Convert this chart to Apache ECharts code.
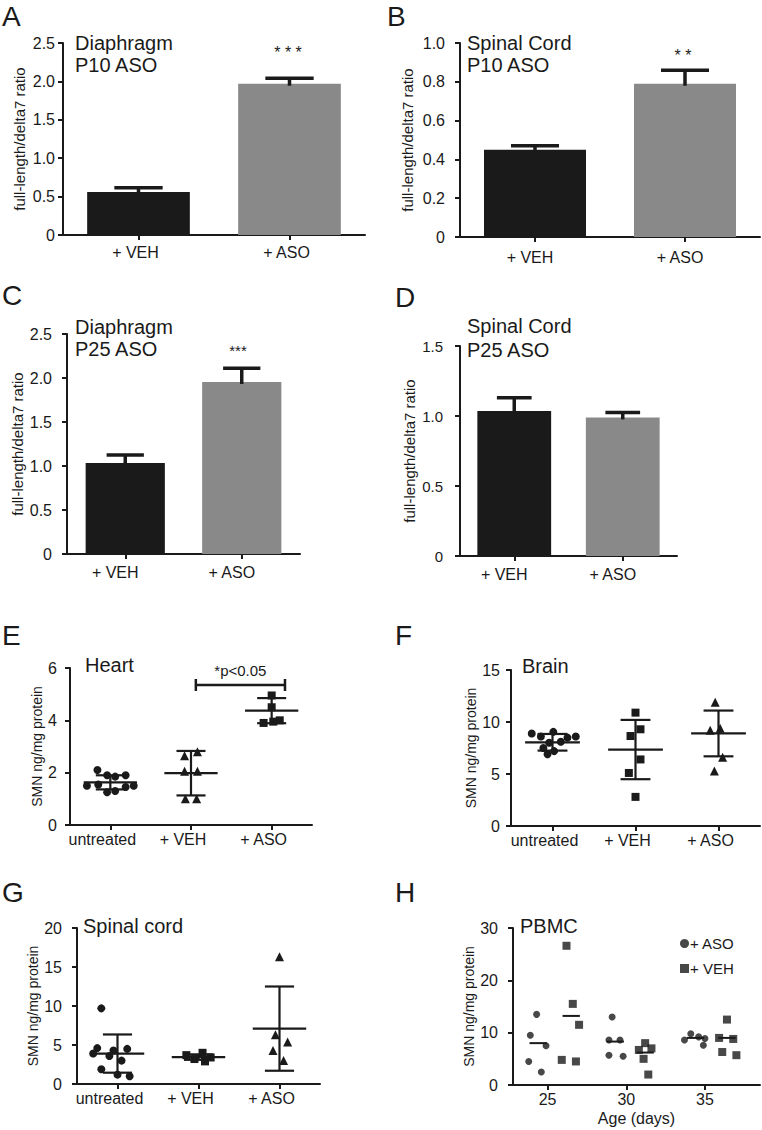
<!DOCTYPE html>
<html><head><meta charset="utf-8">
<script src="https://cdn.jsdelivr.net/npm/echarts@6/dist/echarts.min.js"></script>
<style>html,body{margin:0;padding:0;background:#fff}#c{width:762px;height:1130px}</style>
</head><body><div id="c"></div>
<script>
// ================= DATA =================
// Bar panels (A-D)
const barCategories = ['+ VEH', '+ ASO'];
const aValues = [0.56, 1.97];
const aErrTop = [0.615, 2.04];
const bValues = [0.45, 0.79];
const bErrTop = [0.47, 0.86];
const cValues = [1.035, 1.955];
const cErrTop = [1.125, 2.11];
const dValues = [1.035, 0.99];
const dErrTop = [1.13, 1.025];

// Scatter panels (E-G)
const groupCategories = ['untreated', '+ VEH', '+ ASO'];
// E heart
const eUntreated = [2.1, 1.9, 1.85, 1.9, 1.5, 1.55, 1.5, 1.45, 1.25, 1.3];
const eUntreatedJitter = [-0.16, -0.04, 0.06, 0.19, -0.29, -0.15, 0.29, 0.19, -0.04, 0.06];
const eVeh = [2.8, 2.65, 2.05, 2.05, 1.0, 1.0];
const eVehJitter = [0.08, -0.08, -0.08, 0.08, -0.07, 0.07];
const eAso = [4.95, 4.5, 4.0, 3.9, 3.95];
const eAsoJitter = [0.0, 0.0, 0.1, -0.1, 0.02];
const eMean = [1.63, 1.98, 4.37];
const eSd = [0.27, 0.85, 0.48];
const eBracket = [1.56, 2.665, 5.35]; // from, to, level
const eBracketLabel = '*p<0.05';
// F brain
const fUntreated = [8.9, 8.6, 9.05, 8.5, 8.6, 8.0, 8.1, 7.5, 7.2, 6.9];
const fUntreatedJitter = [-0.25, -0.14, 0.01, 0.18, 0.28, -0.04, 0.1, -0.11, 0.02, -0.06];
const fVeh = [10.9, 9.3, 8.65, 6.4, 5.1, 2.8];
const fVehJitter = [0.0, 0.06, -0.06, 0.06, -0.08, 0.0];
const fAso = [11.9, 9.4, 9.2, 6.6, 5.3];
const fAsoJitter = [-0.04, 0.02, -0.1, 0.05, -0.05];
const fMean = [8.05, 7.35, 8.9];
const fSd = [0.8, 2.85, 2.2];
// G spinal cord
const gUntreated = [9.7, 4.6, 4.3, 4.5, 3.9, 3.6, 3.0, 1.9, 1.2, 1.0];
const gUntreatedJitter = [-0.2, -0.25, -0.05, 0.12, -0.3, -0.1, 0.05, -0.2, 0.0, 0.15];
const gVeh = [4.0, 3.7, 3.4, 3.2, 2.9];
const gVehJitter = [0.05, -0.15, 0.15, -0.05, 0.08];
const gAso = [16.3, 6.3, 5.4, 4.3, 3.0];
const gAsoJitter = [0.0, -0.05, 0.1, -0.08, 0.05];
const gMean = [3.9, 3.45, 7.1];
const gSd = [2.45, 0.35, 5.4];

// H PBMC (x = age in days, with jitter)
const hTicks = [25, 30, 35];
const hAsoX = [[24.3, 23.9, 24.9, 23.8, 24.6], [29.1, 28.9, 29.6, 28.9, 29.8], [34.1, 34.6, 35.0, 33.7, 34.9]];
const hAsoY = [[13.5, 9.5, 7.5, 4.5, 2.5], [13.0, 8.6, 8.6, 5.7, 5.5], [9.8, 9.2, 8.9, 8.6, 7.6]];
const hVehX = [[26.2, 26.6, 27.0, 25.9, 26.8], [31.2, 30.8, 31.6, 31.1, 31.4], [36.4, 35.9, 36.8, 36.1, 37.0]];
const hVehY = [[26.6, 15.5, 11.5, 4.8, 4.5], [8.0, 6.7, 7.0, 5.0, 2.0], [12.5, 9.0, 8.8, 6.3, 5.7]];
const hAsoMeanX = [24.4, 29.3, 34.4];
const hAsoMean = [8.0, 8.3, 9.0];
const hVehMeanX = [26.5, 31.2, 36.4];
const hVehMean = [13.2, 6.2, 9.0];

// ================= CHART =================
const FONT = '"Liberation Sans", Arial, Helvetica, sans-serif';
const INK = '#1a1a1a';
const GRAY = '#898989';
const RATIO = 'full-length/delta7 ratio';
const SMN = 'SMN ng/mg protein';

function fmt1(v) { return v === 0 ? '0' : v.toFixed(1); }
function fmt0(v) { return String(v); }

const grids = [
  {left: 63, top: 43, width: 302, height: 192},
  {left: 460, top: 43, width: 300, height: 194},
  {left: 67, top: 334, width: 233, height: 220},
  {left: 460, top: 346, width: 217, height: 210},
  {left: 70, top: 668, width: 242, height: 157},
  {left: 511, top: 670, width: 249, height: 156},
  {left: 77, top: 928, width: 243, height: 156},
  {left: 513, top: 928, width: 247, height: 157}
];

function catAxis(grid, cats, shift, margin) {
  return {
    type: 'category', gridIndex: grid, data: cats, boundaryGap: true,
    axisLine: {show: true, lineStyle: {color: INK, width: 2}},
    axisTick: {show: true, alignWithLabel: true, length: 5, lineStyle: {color: INK, width: 2}},
    axisLabel: {color: INK, fontSize: 16, fontFamily: FONT, margin: margin, padding: [0, 2 * shift, 0, 0], interval: 0},
    splitLine: {show: false}
  };
}
function hiddenVal(grid) {
  return {type: 'value', gridIndex: grid, min: 0, max: 3, show: false};
}
function valY(grid, max, interval, fmt, name, nameGap, nameSize, margin, labelSize) {
  return {
    type: 'value', gridIndex: grid, min: 0, max: max, interval: interval,
    name: name, nameLocation: 'middle', nameRotate: 90, nameGap: nameGap,
    nameTextStyle: {fontSize: nameSize, color: INK, fontFamily: FONT},
    axisLine: {show: true, lineStyle: {color: INK, width: 2}},
    axisTick: {show: true, length: 5, lineStyle: {color: INK, width: 2}},
    axisLabel: {color: INK, fontSize: labelSize || 16, fontFamily: FONT, margin: margin, formatter: fmt},
    splitLine: {show: false}
  };
}

const xAxes = [
  catAxis(0, barCategories, 3, 9),   // 0 A
  catAxis(1, barCategories, 5, 12),  // 1 B
  catAxis(2, barCategories, 10, 10), // 2 C
  catAxis(3, barCategories, 10, 10), // 3 D
  catAxis(4, groupCategories, 8, 6), // 4 E
  hiddenVal(4),                      // 5 E value
  catAxis(5, groupCategories, 8, 6), // 6 F
  hiddenVal(5),                      // 7 F value
  catAxis(6, groupCategories, 8, 6), // 8 G
  hiddenVal(6),                      // 9 G value
  {                                   // 10 H
    type: 'value', gridIndex: 7, min: 22.8, max: 38.5,
    name: 'Age (days)', nameLocation: 'middle', nameGap: 25,
    nameTextStyle: {fontSize: 16, color: INK, fontFamily: FONT},
    axisLine: {show: true, lineStyle: {color: INK, width: 2}},
    axisTick: {show: true, length: 5, lineStyle: {color: INK, width: 2}, customValues: hTicks},
    axisLabel: {color: INK, fontSize: 16, fontFamily: FONT, margin: 6, customValues: hTicks},
    splitLine: {show: false}
  }
];
const yAxes = [
  valY(0, 2.5, 0.5, fmt1, RATIO, 36, 15, 8),
  valY(1, 1.0, 0.2, fmt1, RATIO, 45, 15, 15),
  valY(2, 2.5, 0.5, fmt1, RATIO, 42, 15, 15),
  valY(3, 1.5, 0.5, fmt1, RATIO, 43, 15, 17, 15),
  valY(4, 6, 2, fmt0, SMN, 26, 14, 13),
  valY(5, 15, 5, fmt0, SMN, 30, 14, 11),
  valY(6, 20, 5, fmt0, SMN, 32, 14, 15),
  valY(7, 30, 10, fmt0, SMN, 36, 14, 15)
];

function barErrRender(params, api) {
  const idx = api.value(0), v = api.value(1), top = api.value(2);
  const p0 = api.coord([idx, v]), p1 = api.coord([idx, top]);
  const half = api.size([1, 0])[0] * 0.16;
  const st = {stroke: INK, lineWidth: 3.5};
  return {type: 'group', children: [
    {type: 'line', shape: {x1: p0[0], y1: p0[1] + 2, x2: p1[0], y2: p1[1]}, style: st},
    {type: 'line', shape: {x1: p1[0] - half, y1: p1[1], x2: p1[0] + half, y2: p1[1]}, style: st}
  ]};
}
function meanSdRender(params, api) {
  const x = api.value(0), m = api.value(1), sd = api.value(2);
  const unit = api.size([1, 0])[0];
  const pm = api.coord([x, m]), pt = api.coord([x, m + sd]), pb = api.coord([x, m - sd]);
  const hw = unit * 0.33, cw = unit * 0.18;
  const st = {stroke: INK, lineWidth: 2.2};
  return {type: 'group', children: [
    {type: 'line', shape: {x1: pm[0] - hw, y1: pm[1], x2: pm[0] + hw, y2: pm[1]}, style: st},
    {type: 'line', shape: {x1: pt[0], y1: pt[1], x2: pb[0], y2: pb[1]}, style: st},
    {type: 'line', shape: {x1: pt[0] - cw, y1: pt[1], x2: pt[0] + cw, y2: pt[1]}, style: st},
    {type: 'line', shape: {x1: pb[0] - cw, y1: pb[1], x2: pb[0] + cw, y2: pb[1]}, style: st}
  ]};
}
function meanOnlyRender(params, api) {
  const x = api.value(0), m = api.value(1);
  const unit = api.size([1, 0])[0];
  const p = api.coord([x, m]);
  const hw = unit * 0.55;
  return {type: 'line', shape: {x1: p[0] - hw, y1: p[1], x2: p[0] + hw, y2: p[1]}, style: {stroke: INK, lineWidth: 2}};
}
function bracketRender(params, api) {
  const a = api.coord([api.value(0), api.value(2)]), b = api.coord([api.value(1), api.value(2)]);
  const st = {stroke: INK, lineWidth: 2.5};
  return {type: 'group', children: [
    {type: 'line', shape: {x1: a[0], y1: a[1], x2: b[0], y2: b[1]}, style: st},
    {type: 'line', shape: {x1: a[0], y1: a[1] - 6, x2: a[0], y2: a[1] + 6}, style: st},
    {type: 'line', shape: {x1: b[0], y1: b[1] - 6, x2: b[0], y2: b[1] + 6}, style: st},
    {type: 'text', style: {text: eBracketLabel, x: (a[0] + b[0]) / 2, y: a[1] - 7, textAlign: 'center',
      textVerticalAlign: 'bottom', fontSize: 15, fontFamily: FONT, fill: INK}}
  ]};
}

const series = [];
function addBars(xi, yi, values, errTop) {
  series.push({type: 'bar', xAxisIndex: xi, yAxisIndex: yi, data: values, barWidth: '68%',
    itemStyle: {color: p => p.dataIndex === 0 ? INK : GRAY}, silent: true});
  series.push({type: 'custom', xAxisIndex: xi, yAxisIndex: yi, renderItem: barErrRender, z: 5,
    encode: {x: 0, y: [1, 2]}, data: values.map((v, i) => [i, v, errTop[i]]), silent: true});
}
addBars(0, 0, aValues, aErrTop);
addBars(1, 1, bValues, bErrTop);
addBars(2, 2, cValues, cErrTop);
addBars(3, 3, dValues, dErrTop);

const SYM_SIZE = {circle: 8, rect: 8, triangle: 9};
function addGroups(prefix, xi, yi, groups, jitters, means, sds, syms) {
  groups.forEach((vals, g) => {
    series.push({type: 'scatter', name: prefix + ' ' + groupCategories[g], xAxisIndex: xi, yAxisIndex: yi,
      symbol: syms[g], symbolSize: SYM_SIZE[syms[g]], itemStyle: {color: INK, opacity: 1}, silent: true,
      data: vals.map((v, k) => [g + 0.5 + jitters[g][k], v])});
  });
  series.push({type: 'custom', xAxisIndex: xi, yAxisIndex: yi, renderItem: meanSdRender, z: 5, silent: true,
    encode: {x: 0, y: 1}, data: means.map((m, g) => [g + 0.5, m, sds[g]])});
}
addGroups('E', 5, 4, [eUntreated, eVeh, eAso], [eUntreatedJitter, eVehJitter, eAsoJitter], eMean, eSd,
  ['circle', 'triangle', 'rect']);
series.push({type: 'custom', xAxisIndex: 5, yAxisIndex: 4, renderItem: bracketRender, z: 5, silent: true,
  encode: {x: [0, 1], y: 2}, data: [eBracket]});
addGroups('F', 7, 5, [fUntreated, fVeh, fAso], [fUntreatedJitter, fVehJitter, fAsoJitter], fMean, fSd,
  ['circle', 'rect', 'triangle']);
addGroups('G', 9, 6, [gUntreated, gVeh, gAso], [gUntreatedJitter, gVehJitter, gAsoJitter], gMean, gSd,
  ['circle', 'rect', 'triangle']);

// H
function flatPts(xs, ys) {
  const out = [];
  xs.forEach((row, i) => row.forEach((x, k) => out.push([x, ys[i][k]])));
  return out;
}
series.push({type: 'scatter', name: '+ ASO', xAxisIndex: 10, yAxisIndex: 7, symbol: 'circle', symbolSize: 7,
  itemStyle: {color: INK}, silent: true, data: flatPts(hAsoX, hAsoY)});
series.push({type: 'scatter', name: '+ VEH', xAxisIndex: 10, yAxisIndex: 7, symbol: 'rect', symbolSize: 8,
  itemStyle: {color: INK}, silent: true, data: flatPts(hVehX, hVehY)});
series.push({type: 'custom', xAxisIndex: 10, yAxisIndex: 7, renderItem: meanOnlyRender, z: 5, silent: true,
  encode: {x: 0, y: 1}, data: hAsoMeanX.map((x, i) => [x, hAsoMean[i]]).concat(hVehMeanX.map((x, i) => [x, hVehMean[i]]))});

function txt(x, y, text, size, align, lh) {
  return {type: 'text', x: x, y: y, silent: true,
    style: {text: text, fontSize: size, fontFamily: FONT, fill: INK, textAlign: align || 'left',
      textVerticalAlign: 'top', lineHeight: lh || size}};
}
const graphics = [
  txt(2, 2, 'A', 28), txt(387, 2, 'B', 28), txt(2, 281, 'C', 28), txt(395, 283, 'D', 28),
  txt(2, 621, 'E', 28), txt(395, 621, 'F', 28), txt(2, 878, 'G', 28), txt(395, 878, 'H', 28),
  txt(75, 32, 'Diaphragm\nP10 ASO', 20, 'left', 22),
  txt(467, 32, 'Spinal Cord\nP10 ASO', 20, 'left', 22),
  txt(75, 316, 'Diaphragm\nP25 ASO', 20, 'left', 22),
  txt(467, 314, 'Spinal Cord\nP25 ASO', 20, 'left', 24),
  txt(85, 655, 'Heart', 20), txt(522, 656, 'Brain', 20),
  txt(83, 916, 'Spinal cord', 20), txt(520, 916, 'PBMC', 20),
  txt(288, 44, '* * *', 16, 'center'), txt(683, 47, '* *', 16, 'center'), txt(238, 343, '***', 15, 'center')
];

const chart = echarts.init(document.getElementById('c'), null, {renderer: 'svg', width: 762, height: 1130});
chart.setOption({
  animation: false,
  backgroundColor: '#fff',
  textStyle: {fontFamily: FONT},
  grid: grids,
  xAxis: xAxes,
  yAxis: yAxes,
  legend: {data: ['+ ASO', '+ VEH'], orient: 'vertical', left: 675, top: 931, itemWidth: 9, itemHeight: 9,
    itemGap: 10, selectedMode: false, textStyle: {fontSize: 15, color: INK, fontFamily: FONT, padding: [0, 0, 0, -4]}},
  graphic: graphics,
  series: series
});
</script>
</body></html>
